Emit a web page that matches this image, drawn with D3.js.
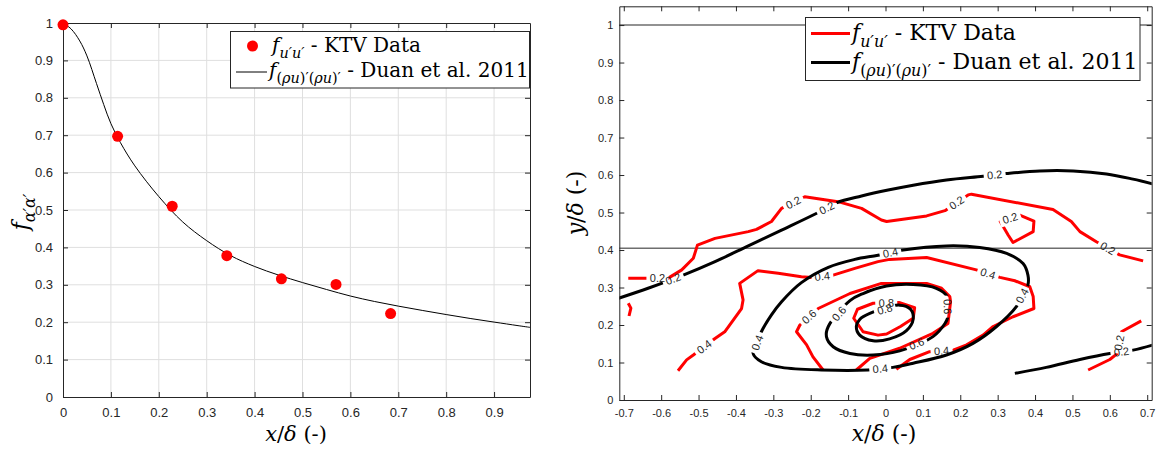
<!DOCTYPE html>
<html>
<head>
<meta charset="utf-8">
<script src="https://cdn.jsdelivr.net/npm/d3@7"></script>
<style>
body { margin: 0; background: #fff; }
svg { display: block; }
</style>
</head>
<body>
<svg id="chart" width="1159" height="449"></svg>
<script>
const W = 1159
const H = 449
const axisColor = "#262626"
const red = "#ff0000"
const sansFont = "Liberation Sans, Arial, sans-serif"
const serifFont = "DejaVu Serif, serif"

// ---- left panel data ----
const ktvX = [0, 0.114, 0.228, 0.342, 0.456, 0.57, 0.684]
const ktvF = [0.995, 0.697, 0.51, 0.378, 0.316, 0.301, 0.223]
const duanX = [0, 0.017, 0.035, 0.05, 0.07, 0.085, 0.1, 0.12, 0.15, 0.2, 0.25, 0.3, 0.35, 0.4, 0.45, 0.5, 0.55, 0.6, 0.65, 0.7, 0.75, 0.8, 0.85, 0.9, 0.95, 0.975]
const duanF = [1.0, 0.984, 0.952, 0.912, 0.838, 0.782, 0.731, 0.68, 0.618, 0.536, 0.468, 0.418, 0.378, 0.349, 0.326, 0.306, 0.2875, 0.27, 0.2555, 0.243, 0.2315, 0.2205, 0.21, 0.2003, 0.1908, 0.1862]
const leftXTicks = [0, 0.1, 0.2, 0.3, 0.4, 0.5, 0.6, 0.7, 0.8, 0.9]
const leftXLabels = ["0", "0.1", "0.2", "0.3", "0.4", "0.5", "0.6", "0.7", "0.8", "0.9"]
const leftYTicks = [0, 0.1, 0.2, 0.3, 0.4, 0.5, 0.6, 0.7, 0.8, 0.9, 1]
const leftYLabels = ["0", "0.1", "0.2", "0.3", "0.4", "0.5", "0.6", "0.7", "0.8", "0.9", "1"]

// ---- right panel data ----
const rightXTicks = [-0.7, -0.6, -0.5, -0.4, -0.3, -0.2, -0.1, 0, 0.1, 0.2, 0.3, 0.4, 0.5, 0.6, 0.7]
const rightXLabels = ["-0.7", "-0.6", "-0.5", "-0.4", "-0.3", "-0.2", "-0.1", "0", "0.1", "0.2", "0.3", "0.4", "0.5", "0.6", "0.7"]
const rightYTicks = [0, 0.1, 0.2, 0.3, 0.4, 0.5, 0.6, 0.7, 0.8, 0.9, 1]
const rightYLabels = ["0", "0.1", "0.2", "0.3", "0.4", "0.5", "0.6", "0.7", "0.8", "0.9", "1"]
const refLevels = [1, 0.405]

// KTV contours (x/delta, y/delta)
const ktv02Main = [[-0.688, 0.325], [-0.639, 0.325], [-0.581, 0.325], [-0.545, 0.347], [-0.514, 0.378], [-0.503, 0.413], [-0.456, 0.431], [-0.367, 0.449], [-0.345, 0.455], [-0.305, 0.476], [-0.278, 0.511], [-0.216, 0.542], [-0.127, 0.529], [-0.064, 0.511], [-0.011, 0.48], [0.003, 0.476], [0.11, 0.491], [0.159, 0.505], [0.221, 0.547], [0.23, 0.549], [0.448, 0.508], [0.497, 0.476], [0.52, 0.449], [0.564, 0.422], [0.626, 0.387], [0.689, 0.371]]
const ktv02MainLabels = [[-0.61, 0.325], [-0.247, 0.527], [0.19, 0.526], [0.595, 0.405]]
const ktv02Loop = [[0.359, 0.493], [0.397, 0.477], [0.395, 0.449], [0.341, 0.42], [0.328, 0.44], [0.307, 0.476]]
const ktv02LoopLabels = [[0.333, 0.485]]
const ktv02Edge = [[-0.688, 0.258], [-0.681, 0.245], [-0.686, 0.224]]
const ktv02Right = [[0.684, 0.211], [0.631, 0.182], [0.619, 0.123], [0.6, 0.108], [0.542, 0.08]]
const ktv02RightLabels = [[0.625, 0.153]]
const ktv04 = [[-0.555, 0.078], [-0.532, 0.107], [-0.514, 0.12], [-0.456, 0.164], [-0.43, 0.182], [-0.385, 0.244], [-0.381, 0.267], [-0.39, 0.311], [-0.341, 0.345], [-0.287, 0.338], [-0.225, 0.329], [-0.198, 0.327], [-0.14, 0.333], [-0.082, 0.351], [-0.02, 0.369], [0.011, 0.375], [0.11, 0.38], [0.243, 0.347], [0.306, 0.327], [0.346, 0.318], [0.386, 0.302], [0.395, 0.276], [0.397, 0.244], [0.341, 0.222], [0.288, 0.196], [0.261, 0.173], [0.217, 0.147], [0.181, 0.133], [0.118, 0.129], [0.065, 0.108], [0.029, 0.082]]
const ktv04Labels = [[-0.485, 0.142], [-0.169, 0.33], [0.274, 0.337], [0.15, 0.131]]
const ktv06 = [[-0.167, 0.08], [-0.194, 0.115], [-0.211, 0.147], [-0.238, 0.182], [-0.229, 0.2], [-0.18, 0.244], [-0.095, 0.284], [-0.011, 0.311], [0.11, 0.311], [0.15, 0.298], [0.172, 0.276], [0.174, 0.262], [0.167, 0.204], [0.127, 0.178], [0.038, 0.138], [-0.042, 0.111], [-0.078, 0.08]]
const ktv06Labels = [[-0.204, 0.222]]
const ktv08 = [[-0.02, 0.173], [-0.06, 0.182], [-0.085, 0.218], [-0.075, 0.242], [-0.033, 0.258], [0.036, 0.26], [0.078, 0.246], [0.074, 0.218], [0.04, 0.196], [0.003, 0.176]]
const ktv08Labels = [[0.002, 0.259]]

// Duan et al. 2011 contours
const duan02Main = [[-0.715, 0.271], [-0.635, 0.298], [-0.541, 0.333], [-0.456, 0.369], [-0.367, 0.411], [-0.278, 0.453], [-0.184, 0.498], [-0.131, 0.526], [-0.064, 0.544], [0.007, 0.56], [0.074, 0.573], [0.163, 0.587], [0.261, 0.597], [0.324, 0.604], [0.413, 0.611], [0.502, 0.611], [0.591, 0.603], [0.662, 0.589], [0.716, 0.576]]
const duan02MainLabels = [[-0.568, 0.323], [-0.157, 0.512], [0.292, 0.6]]
const duan02Right = [[0.346, 0.071], [0.43, 0.087], [0.52, 0.108], [0.6, 0.124], [0.662, 0.133], [0.716, 0.147]]
const duan02RightLabels = [[0.631, 0.128]]
const duan04 = [[-0.332, 0.182], [-0.305, 0.227], [-0.278, 0.262], [-0.225, 0.313], [-0.153, 0.354], [-0.082, 0.375], [-0.02, 0.386], [0.047, 0.4], [0.163, 0.411], [0.252, 0.407], [0.324, 0.391], [0.368, 0.364], [0.381, 0.333], [0.381, 0.307], [0.35, 0.249], [0.297, 0.196], [0.234, 0.151], [0.163, 0.12], [0.074, 0.098], [0.02, 0.087], [-0.047, 0.08], [-0.171, 0.08], [-0.278, 0.087], [-0.332, 0.102], [-0.354, 0.124]]
const duan04Labels = [[0.013, 0.393], [0.366, 0.278], [-0.014, 0.083], [-0.343, 0.153]]
const duan06 = [[-0.153, 0.196], [-0.158, 0.169], [-0.14, 0.142], [-0.095, 0.124], [-0.033, 0.12], [0.038, 0.131], [0.127, 0.169], [0.159, 0.204], [0.167, 0.222], [0.165, 0.276], [0.136, 0.298], [0.074, 0.308], [0.003, 0.304], [-0.06, 0.284], [-0.095, 0.265]]
const duan06Labels = [[0.083, 0.15], [0.166, 0.249], [-0.124, 0.23]]
const duan08 = [[-0.078, 0.196], [-0.069, 0.173], [-0.033, 0.158], [0.011, 0.163], [0.056, 0.185], [0.074, 0.215], [0.067, 0.242], [0.038, 0.253], [-0.042, 0.231], [-0.069, 0.215]]
const duan08Labels = [[-0.002, 0.242]]

const ktvContours = [
    {level: "0.2", pts: ktv02Main, closed: false, labels: ktv02MainLabels},
    {level: "0.2", pts: ktv02Loop, closed: true, labels: ktv02LoopLabels},
    {level: "0.2", pts: ktv02Edge, closed: false, labels: []},
    {level: "0.2", pts: ktv02Right, closed: false, labels: ktv02RightLabels},
    {level: "0.4", pts: ktv04, closed: false, labels: ktv04Labels},
    {level: "0.6", pts: ktv06, closed: false, labels: ktv06Labels},
    {level: "0.8", pts: ktv08, closed: true, labels: ktv08Labels}
]
const duanContours = [
    {level: "0.2", pts: duan02Main, closed: false, labels: duan02MainLabels},
    {level: "0.2", pts: duan02Right, closed: false, labels: duan02RightLabels},
    {level: "0.4", pts: duan04, closed: true, labels: duan04Labels},
    {level: "0.6", pts: duan06, closed: true, labels: duan06Labels},
    {level: "0.8", pts: duan08, closed: true, labels: duan08Labels}
]

const svg = d3.select("#chart")
const defs = svg.append("defs")

// math-ish text with italic parts and subscripts
function mathText(g, size, parts) {
    const t = g.append("text")
        .style("font-family", serifFont)
        .style("font-size", size + "px")
        .attr("fill", "#000")
    let down = false
    parts.forEach(p => {
        const s = t.append("tspan").text(p.t)
        if (p.it) s.style("font-style", "italic")
        if (p.sub) {
            s.style("font-size", (size * 0.72) + "px")
            if (!down) { s.attr("dy", size * 0.3); down = true }
        } else if (down) {
            s.attr("dy", -size * 0.3); down = false
        }
    })
    return t
}

const fSub1 = [{t: "f", it: true}, {t: "u′u′", it: true, sub: true}, {t: " - KTV Data"}]
const fSub2 = [{t: "f", it: true}, {t: "(", sub: true}, {t: "ρu", it: true, sub: true}, {t: ")′(", sub: true}, {t: "ρu", it: true, sub: true}, {t: ")′", sub: true}, {t: " - Duan et al. 2011"}]
const xLabelParts = [{t: "x", it: true}, {t: "/"}, {t: "δ", it: true}, {t: " (-)"}]

function styleAxis(g, size) {
    g.attr("font-family", null).attr("font-size", null)
    g.select(".domain").attr("stroke", axisColor)
    g.selectAll(".tick line").attr("stroke", axisColor)
    g.selectAll(".tick text")
        .attr("fill", axisColor)
        .style("font-family", sansFont)
        .style("font-size", size + "px")
}

// ================= left panel =================
const xL = d3.scaleLinear().domain([0, 0.975]).range([63, 530])
const yL = d3.scaleLinear().domain([0, 1]).range([397, 23])
const left = svg.append("g")

left.selectAll(".gridx")
    .data(leftXTicks.slice(1))
    .enter()
    .append("line")
        .attr("x1", d => xL(d)).attr("x2", d => xL(d))
        .attr("y1", yL(0)).attr("y2", yL(1))
        .attr("stroke", "#dfdfdf")
left.selectAll(".gridy")
    .data(leftYTicks.slice(1, -1))
    .enter()
    .append("line")
        .attr("x1", xL(0)).attr("x2", xL(0.975))
        .attr("y1", d => yL(d)).attr("y2", d => yL(d))
        .attr("stroke", "#dfdfdf")

left.append("g")
    .attr("transform", `translate(0, ${yL(0)})`)
    .call(d3.axisBottom(xL).tickValues(leftXTicks).tickFormat((d, i) => leftXLabels[i]).tickSize(-5).tickSizeOuter(0).tickPadding(11))
    .call(g => styleAxis(g, 13))
left.append("g")
    .attr("transform", `translate(${xL(0)}, 0)`)
    .call(d3.axisLeft(yL).tickValues(leftYTicks).tickFormat((d, i) => leftYLabels[i]).tickSize(-5).tickSizeOuter(0).tickPadding(10))
    .call(g => styleAxis(g, 13))
left.append("g")
    .attr("transform", `translate(0, ${yL(1)})`)
    .call(d3.axisTop(xL).tickValues(leftXTicks).tickFormat("").tickSize(-5).tickSizeOuter(0))
    .call(g => styleAxis(g, 13))
left.append("g")
    .attr("transform", `translate(${xL(0.975)}, 0)`)
    .call(d3.axisRight(yL).tickValues(leftYTicks).tickFormat("").tickSize(-5).tickSizeOuter(0))
    .call(g => styleAxis(g, 13))

const duanLine = d3.line()
    .x((d, i) => xL(duanX[i]))
    .y(d => yL(d))
    .curve(d3.curveCatmullRom.alpha(0.5))
left.append("path")
    .attr("d", duanLine(duanF))
    .attr("fill", "none")
    .attr("stroke", "#000")
    .attr("stroke-width", 1)

left.selectAll(".dot")
    .data(ktvF)
    .enter()
    .append("circle")
        .attr("cx", (d, i) => xL(ktvX[i]))
        .attr("cy", d => yL(d))
        .attr("r", 5.5)
        .attr("fill", red)

// legend
const legL = left.append("g")
legL.append("rect")
    .attr("x", 230.5).attr("y", 31.5).attr("width", 299).attr("height", 56.5)
    .attr("fill", "#fff").attr("stroke", axisColor).attr("stroke-width", 1)
legL.append("circle").attr("cx", 252.5).attr("cy", 46).attr("r", 5.5).attr("fill", red)
legL.append("line").attr("x1", 236).attr("x2", 267).attr("y1", 72).attr("y2", 72).attr("stroke", "#000")
mathText(legL, 20, fSub1).attr("x", 272).attr("y", 52)
mathText(legL, 20, fSub2).attr("x", 269).attr("y", 77)

mathText(left, 21, xLabelParts).attr("x", 296).attr("y", 441).attr("text-anchor", "middle")
mathText(left, 22, [{t: "f", it: true}, {t: "α′α′", it: true, sub: true}])
    .attr("text-anchor", "middle")
    .attr("transform", "translate(28, 212) rotate(-90)")

// ================= right panel =================
const xR = d3.scaleLinear().domain([-0.712, 0.712]).range([619.3, 1151.7])
const yR = d3.scaleLinear().domain([0, 1.05]).range([400, 6.3])
const right = svg.append("g")

defs.append("clipPath").attr("id", "rclip")
    .append("rect")
        .attr("x", xR(-0.712)).attr("y", yR(1.05))
        .attr("width", xR(0.712) - xR(-0.712)).attr("height", yR(0) - yR(1.05))

right.selectAll(".ref")
    .data(refLevels)
    .enter()
    .append("line")
        .attr("x1", xR(-0.712)).attr("x2", xR(0.712))
        .attr("y1", d => yR(d)).attr("y2", d => yR(d))
        .attr("stroke", "#6e6e6e")
        .attr("stroke-width", 1.5)

const gapW = 22
const gapH = 12

// nearest point on a pixel polyline, with its direction
function placeLabel(poly, p) {
    let best = null
    for (let i = 0; i < poly.length - 1; i++) {
        const [ax, ay] = poly[i], [bx, by] = poly[i + 1]
        const dx = bx - ax, dy = by - ay
        const len2 = dx * dx + dy * dy || 1
        let t = ((p[0] - ax) * dx + (p[1] - ay) * dy) / len2
        t = Math.max(0, Math.min(1, t))
        const qx = ax + t * dx, qy = ay + t * dy
        const dist = (qx - p[0]) ** 2 + (qy - p[1]) ** 2
        if (!best || dist < best.dist) {
            let a = Math.atan2(dy, dx) * 180 / Math.PI
            if (a > 90) a -= 180
            if (a < -90) a += 180
            best = {x: qx, y: qy, a: a, dist: dist}
        }
    }
    return best
}

function drawContours(contours, color, smooth, prefix) {
    const lines = right.append("g").attr("clip-path", "url(#rclip)")
    const texts = right.append("g")
    contours.forEach((c, ci) => {
        const poly = c.pts.map(d => [xR(d[0]), yR(d[1])])
        if (c.closed) poly.push(poly[0])
        const placed = c.labels.map(l => placeLabel(poly, [xR(l[0]), yR(l[1])]))
        const maskId = prefix + ci
        const mask = defs.append("mask").attr("id", maskId)
            .attr("maskUnits", "userSpaceOnUse")
            .attr("x", 0).attr("y", 0).attr("width", W).attr("height", H)
        mask.append("rect").attr("width", W).attr("height", H).attr("fill", "#fff")
        placed.forEach(p => {
            mask.append("rect")
                .attr("x", -gapW / 2).attr("y", -gapH / 2)
                .attr("width", gapW).attr("height", gapH)
                .attr("transform", `translate(${p.x}, ${p.y}) rotate(${p.a})`)
                .attr("fill", "#000")
        })
        let curve
        if (smooth) curve = c.closed ? d3.curveCatmullRomClosed : d3.curveCatmullRom
        else curve = c.closed ? d3.curveLinearClosed : d3.curveLinear
        const line = d3.line().x(d => xR(d[0])).y(d => yR(d[1])).curve(curve)
        lines.append("path")
            .attr("d", line(c.pts))
            .attr("fill", "none")
            .attr("stroke", color)
            .attr("stroke-width", 3)
            .attr("stroke-linejoin", "round")
            .attr("mask", `url(#${maskId})`)
        placed.forEach(p => {
            texts.append("text")
                .attr("transform", `translate(${p.x}, ${p.y}) rotate(${p.a})`)
                .attr("text-anchor", "middle")
                .attr("dy", "0.35em")
                .style("font-family", sansFont)
                .style("font-size", "11px")
                .attr("fill", axisColor)
                .text(c.level)
        })
    })
}

drawContours(ktvContours, red, false, "mk")
drawContours(duanContours, "#000", true, "md")

right.append("g")
    .attr("transform", `translate(0, ${yR(0)})`)
    .call(d3.axisBottom(xR).tickValues(rightXTicks).tickFormat((d, i) => rightXLabels[i]).tickSize(-5).tickSizeOuter(0).tickPadding(9))
    .call(g => styleAxis(g, 11))
right.append("g")
    .attr("transform", `translate(${xR(-0.712)}, 0)`)
    .call(d3.axisLeft(yR).tickValues(rightYTicks).tickFormat((d, i) => rightYLabels[i]).tickSize(-5).tickSizeOuter(0).tickPadding(6))
    .call(g => styleAxis(g, 11))
right.append("g")
    .attr("transform", `translate(0, ${yR(1.05)})`)
    .call(d3.axisTop(xR).tickValues(rightXTicks).tickFormat("").tickSize(-5).tickSizeOuter(0))
    .call(g => styleAxis(g, 11))
right.append("g")
    .attr("transform", `translate(${xR(0.712)}, 0)`)
    .call(d3.axisRight(yR).tickValues(rightYTicks).tickFormat("").tickSize(-5).tickSizeOuter(0))
    .call(g => styleAxis(g, 11))

// legend
const legR = right.append("g")
legR.append("rect")
    .attr("x", 805.5).attr("y", 17.5).attr("width", 334.5).attr("height", 63)
    .attr("fill", "#fff").attr("stroke", axisColor).attr("stroke-width", 1)
legR.append("line").attr("x1", 811).attr("x2", 850).attr("y1", 33.5).attr("y2", 33.5).attr("stroke", red).attr("stroke-width", 3)
legR.append("line").attr("x1", 811).attr("x2", 850).attr("y1", 62.5).attr("y2", 62.5).attr("stroke", "#000").attr("stroke-width", 3)
mathText(legR, 22, fSub1).attr("x", 852).attr("y", 40)
mathText(legR, 22, fSub2).attr("x", 852).attr("y", 69)

mathText(right, 22, xLabelParts).attr("x", 884).attr("y", 441).attr("text-anchor", "middle")
mathText(right, 22, [{t: "y", it: true}, {t: "/"}, {t: "δ", it: true}, {t: " (-)"}])
    .attr("text-anchor", "middle")
    .attr("transform", "translate(583, 203) rotate(-90)")
</script>
</body>
</html>
